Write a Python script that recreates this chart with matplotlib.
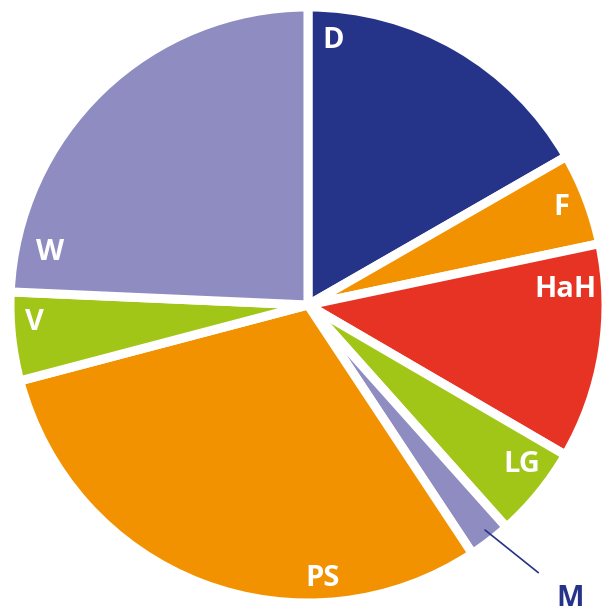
import matplotlib.pyplot as plt
import numpy as np

labels = ["D", "F", "HaH", "LG", "M", "PS", "V", "W"]
shares = [16.7, 5.0, 11.7, 5.0, 2.3, 30.2, 4.8, 24.3]
colors = ["#253388", "#F39200", "#E63323", "#A2C617", "#8E8CC0", "#F39200", "#A2C617", "#8E8CC0"]

# label placement (radius in px, angle in degrees), M goes outside with a leader
label_pos = {"D": (266, 84.6), "F": (272, 21.1), "HaH": (258, 3.4), "LG": (267, -36.8),
             "PS": (274, -87.0), "V": (274, 183.6), "W": (263, 168.4)}

W, H = 605, 612
cx, cy = 308, 305
R = 298

fig = plt.figure(figsize=(W / 100, H / 100), dpi=100)
ax = fig.add_axes([0, 0, 1, 1])

ax.pie(shares, colors=colors, startangle=90, counterclock=False, radius=R,
       explode=[0.03] * len(shares), center=(0, 0), frame=True,
       wedgeprops=dict(edgecolor="white", linewidth=6.5))
ax.set_xlim(-cx, W - cx)
ax.set_ylim(-(H - cy), cy)
ax.set_aspect("equal")
ax.axis("off")

for lab in labels:
    if lab == "M":
        continue
    r, a = label_pos[lab]
    t = np.deg2rad(a)
    ax.text(r * np.cos(t), r * np.sin(t), lab, color="white", fontsize=21,
            fontweight="bold", family="Open Sans", ha="center", va="center")

ax.annotate("M", xy=(485 - cx, cy - 530), xytext=(570 - cx, cy - 598),
            color="#253388", fontsize=21, fontweight="bold", family="Open Sans",
            ha="center", va="center",
            arrowprops=dict(arrowstyle="-", color="#253388", lw=1.2,
                            shrinkA=14, shrinkB=0))

fig.savefig("out.png", dpi=100)
